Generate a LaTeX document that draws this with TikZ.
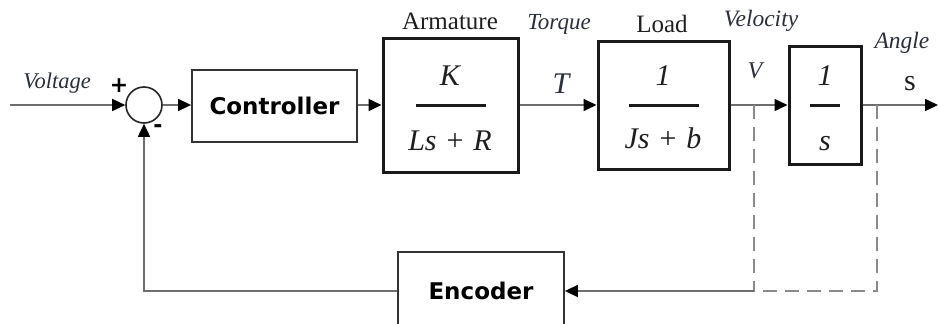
\documentclass[tikz,border=0pt]{standalone}
\usepackage{fontspec}
\setmainfont{Liberation Serif}
\setsansfont{DejaVu Sans}
\usetikzlibrary{arrows.meta,calc}
\definecolor{lineg}{HTML}{6E6E6E}
\definecolor{dashg}{HTML}{8A8A8A}
\definecolor{labc}{HTML}{2A2F3A}
\newcommand{\plusgap}{\hspace{0.33em}}
\begin{document}
\begin{tikzpicture}[x=1pt,y=-1pt,
  conn/.style={draw=lineg,line width=1.6pt},
  arr/.style={conn,-{Triangle[length=13pt,width=12pt,color=black]}},
  dsh/.style={draw=dashg,line width=1.8pt,dash pattern=on 14pt off 8pt},
  thinbox/.style={draw=black!80,line width=1.8pt,inner sep=0pt,font=\sffamily\bfseries\fontsize{23}{23}\selectfont},
  thickbox/.style={draw=black!90,line width=3pt,inner sep=0pt},
  lab/.style={anchor=base,inner sep=0pt,text=labc,font=\itshape\fontsize{23.5}{23.5}\selectfont},
  plainlab/.style={anchor=base,inner sep=0pt,text=black!88,font=\fontsize{25}{25}\selectfont},
  mth/.style={anchor=base,inner sep=0pt,text=black!88,font=\fontsize{30}{30}\selectfont},
  fracbar/.style={draw=black!90,line width=3pt},
  sgn/.style={inner sep=0pt,font=\sffamily\bfseries\fontsize{22}{22}\selectfont}]
\useasboundingbox (0,0) rectangle (938,324);

% blocks
\node[circle,draw=black!85,line width=1.6pt,minimum size=36pt,inner sep=0pt] (sum) at (144,105) {};
\node[thinbox,minimum width=165pt,minimum height=72pt] (ctrl) at (274.5,106) {Controller};
\node[thickbox,minimum width=135pt,minimum height=134pt] (arm) at (450.5,105) {};
\node[thickbox,minimum width=131pt,minimum height=128pt] (load) at (663.5,105) {};
\node[thickbox,minimum width=72pt,minimum height=118pt] (int) at (825,105) {};
\node[thinbox,minimum width=166pt,minimum height=78pt] (enc) at (481,291) {Encoder};

% block contents
\node[mth] (armn) at (450,85) {\itshape K};
\node[mth] (armd) at (450,150) {\itshape Ls\plusgap{\upshape+}\plusgap R};
\draw[fracbar] ($(arm.center)+(-35,0)$) -- ($(arm.center)+(35,0)$);
\node[mth] (loadn) at (663,85) {\itshape 1};
\node[mth] (loadd) at (663,148) {\itshape Js\plusgap{\upshape+}\plusgap b};
\draw[fracbar] ($(load.center)+(-35,0)$) -- ($(load.center)+(35,0)$);
\node[mth] (intn) at (825,85) {\itshape 1};
\node[mth] (intd) at (825,150) {\itshape s};
\draw[fracbar] ($(int.center)+(-15,0)$) -- ($(int.center)+(15,0)$);

% labels
\node[lab,font=\itshape\fontsize{22.5}{22.5}\selectfont] (lvolt) at (57,88) {Voltage};
\node[sgn] (plus) at (119,86) {+};
\node[sgn] (minus) at (158,129) {-};
\node[plainlab] (larm) at (450,29) {Armature};
\node[lab,font=\itshape\fontsize{23}{23}\selectfont] (ltorq) at (559,29) {Torque};
\node[mth,text=labc] (lT) at (561,93) {\itshape T};
\node[plainlab] (lload) at (662,32) {Load};
\node[lab] (lvel) at (761,27) {Velocity};
\node[lab,font=\itshape\fontsize{24}{24}\selectfont] (lV) at (755,78) {V};
\node[lab] (lang) at (902,48) {Angle};
\node[mth] (ls) at (910,90) {s};

% connectors
\coordinate (in) at (10,105);
\coordinate (out) at (938,105);
\coordinate (b1) at (754,105);
\coordinate (b2) at (877,105);
\coordinate (b1d) at (754,291);
\coordinate (b2d) at (877,291);
\draw[arr] (in) -- (sum.west);
\draw[arr] (sum.east) -- (sum.east -| ctrl.west);
\draw[arr] (ctrl.east |- arm.west) -- (arm.west);
\draw[arr] (arm.east) -- (load.west);
\draw[arr] (load.east) -- (int.west);
\draw[arr] (int.east) -- (out);
\draw[dsh] (b1) -- (b1d);
\draw[dsh] (b2) -- (b2d) -- (b1d);
\draw[arr] (b1d) -- (enc.east);
\draw[arr] (enc.west) -| (sum.south);
\end{tikzpicture}
\end{document}
